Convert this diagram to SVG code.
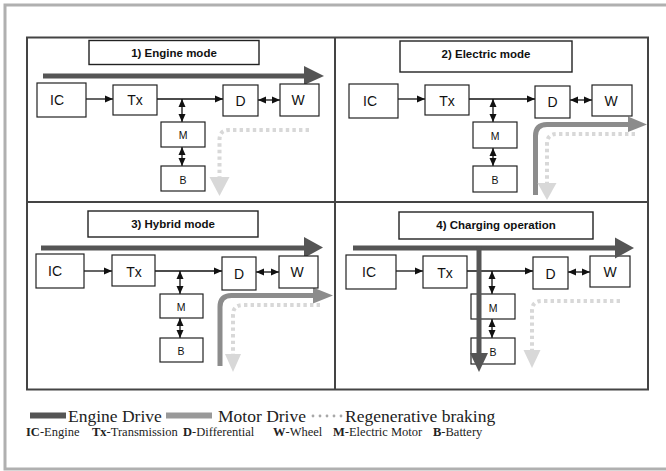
<svg xmlns="http://www.w3.org/2000/svg" width="666" height="471" viewBox="0 0 666 471">
<style>
.box{fill:#fff;stroke:#222;stroke-width:1.2}
.tbox{fill:#fff;stroke:#222;stroke-width:1.4}
.lbl{font-family:"Liberation Sans",Arial,sans-serif;font-size:14px;fill:#111;text-anchor:middle}
.sm{font-family:"Liberation Sans",Arial,sans-serif;font-size:10.5px;fill:#111;text-anchor:middle}
.ttl{font-family:"Liberation Sans",Arial,sans-serif;font-size:11.5px;font-weight:bold;fill:#111;text-anchor:middle}
.ln{stroke:#111;stroke-width:1.3;fill:none}
.one{marker-end:url(#ah)}
.two{marker-end:url(#ah);marker-start:url(#ah)}
.eng{stroke:#555;stroke-width:5;fill:none}
.engh{fill:#555}
.mot{stroke:#8c8c8c;stroke-width:5;fill:none}
.moth{fill:#8c8c8c}
.reg{stroke:#d8d8d8;stroke-width:4;fill:none;stroke-dasharray:3.4 3.2}
.regh{fill:#d8d8d8}
.leg{font-size:17.5px;fill:#222}
.key{font-size:12.5px;fill:#222}
</style>
<defs>
<marker id="ah" markerUnits="userSpaceOnUse" markerWidth="8" markerHeight="8" refX="8" refY="4" orient="auto-start-reverse">
<path d="M0,0.5 L8,4 L0,7.5 z" fill="#111"/>
</marker>
</defs>
<rect width="666" height="471" fill="#fff"/>
<path d="M666 5 H5 V469 H666" fill="none" stroke="#b0b0b0" stroke-width="3"/>
<g id="grid">
<rect x="27" y="37.5" width="621" height="352" fill="none" stroke="#444" stroke-width="2"/>
<line x1="335" y1="37.5" x2="335" y2="389.5" stroke="#444" stroke-width="2"/>
<line x1="27" y1="202" x2="648" y2="202" stroke="#444" stroke-width="2"/>
</g>

<g id="flows">
<!-- panel 1 -->
<line class="eng" x1="43" y1="76" x2="306" y2="76"/>
<polygon class="engh" points="304,66 324,76 304,85"/>
<path class="reg" d="M309 130 H229 Q219.5 130 219.5 140 V178"/>
<polygon class="regh" points="209.5,177 229.5,177 219.5,196"/>
<!-- panel 2 -->
<path class="mot" d="M535.5 195 V136 Q535.5 124.5 547 124.5 H630"/>
<polygon class="moth" points="628,116.5 647,124.5 628,132"/>
<path class="reg" d="M635 134 H557 Q547 134 547 144 V184"/>
<polygon class="regh" points="537.5,183 556.5,183 547,200"/>
<!-- panel 3 -->
<line class="eng" x1="41" y1="248" x2="306" y2="248"/>
<polygon class="engh" points="304,237 323,247.5 304,258"/>
<path class="mot" d="M220 366 V307 Q220 295.5 231.5 295.5 H315"/>
<polygon class="moth" points="313,287.5 333,295.5 313,303.5"/>
<path class="reg" d="M320 305 H243 Q233 305 233 315 V355"/>
<polygon class="regh" points="225,354 241,354 233,372"/>
<!-- panel 4 -->
<path class="reg" d="M620 301 H542 Q532 301 532 311 V351"/>
<polygon class="regh" points="523.5,350 540.5,350 532,368"/>
</g>

<g id="connectors">
<!-- panel 1 -->
<line class="ln one" x1="86" y1="99" x2="113" y2="99"/>
<line class="ln one" x1="157" y1="99" x2="223" y2="99"/>
<line class="ln two" x1="258" y1="100" x2="280" y2="100"/>
<line class="ln two" x1="182" y1="99" x2="182" y2="122"/>
<line class="ln two" x1="182" y1="147" x2="182" y2="166"/>
<!-- panel 2 -->
<line class="ln one" x1="398" y1="99" x2="425" y2="99"/>
<line class="ln one" x1="469" y1="99" x2="535" y2="99"/>
<line class="ln two" x1="570" y1="100" x2="592" y2="100"/>
<line class="ln two" x1="493" y1="99" x2="493" y2="122"/>
<line class="ln two" x1="493" y1="148" x2="493" y2="166"/>
<!-- panel 3 -->
<line class="ln one" x1="84" y1="271" x2="112" y2="271"/>
<line class="ln one" x1="155" y1="271" x2="222" y2="271"/>
<line class="ln two" x1="256" y1="272" x2="279" y2="272"/>
<line class="ln two" x1="180" y1="271" x2="180" y2="294"/>
<line class="ln two" x1="180" y1="318" x2="180" y2="338"/>
<!-- panel 4 -->
<line class="ln one" x1="396" y1="271" x2="423" y2="271"/>
<line class="ln one" x1="467" y1="271" x2="533" y2="271"/>
<line class="ln two" x1="568" y1="272" x2="590" y2="272"/>
<line class="ln two" x1="492" y1="271" x2="492" y2="294"/>
<line class="ln two" x1="492" y1="319" x2="492" y2="338"/>
</g>

<!-- Panel 1 nodes -->
<g id="title1"><rect class="tbox" x="89" y="40.5" width="170" height="24"/><text class="ttl" x="174" y="57">1) Engine mode</text></g>
<g id="ic1"><rect class="box" x="37" y="83" width="49" height="34"/><text class="lbl" x="57" y="105">IC</text></g>
<g id="tx1"><rect class="box" x="113" y="85" width="44" height="30"/><text class="lbl" x="135" y="105">Tx</text></g>
<g id="d1"><rect class="box" x="223" y="85" width="35" height="31"/><text class="lbl" x="240.5" y="106">D</text></g>
<g id="w1"><rect class="box" x="280" y="84" width="39" height="32"/><text class="lbl" x="298" y="105">W</text></g>
<g id="m1"><rect class="box" x="161" y="122" width="44" height="25"/><text class="sm" x="183" y="139">M</text></g>
<g id="b1"><rect class="box" x="161" y="166" width="44" height="25"/><text class="sm" x="183" y="184">B</text></g>

<!-- Panel 2 nodes -->
<g id="title2"><rect class="tbox" x="400" y="41" width="172" height="31"/><text class="ttl" x="486" y="58">2) Electric mode</text></g>
<g id="ic2"><rect class="box" x="349" y="84" width="49" height="34"/><text class="lbl" x="370" y="106">IC</text></g>
<g id="tx2"><rect class="box" x="425" y="85" width="44" height="30"/><text class="lbl" x="447" y="106">Tx</text></g>
<g id="d2"><rect class="box" x="535" y="86" width="35" height="32"/><text class="lbl" x="552.5" y="107">D</text></g>
<g id="w2"><rect class="box" x="592" y="85" width="40" height="31"/><text class="lbl" x="611" y="106">W</text></g>
<g id="m2"><rect class="box" x="473" y="122" width="44" height="26"/><text class="sm" x="495" y="140">M</text></g>
<g id="b2"><rect class="box" x="473" y="166" width="44" height="26"/><text class="sm" x="495" y="184">B</text></g>

<!-- Panel 3 nodes -->
<g id="title3"><rect class="tbox" x="88" y="211" width="170" height="26"/><text class="ttl" x="173" y="228">3) Hybrid mode</text></g>
<g id="ic3"><rect class="box" x="36" y="254" width="48" height="34"/><text class="lbl" x="55" y="276">IC</text></g>
<g id="tx3"><rect class="box" x="112" y="255" width="43" height="31"/><text class="lbl" x="134" y="277">Tx</text></g>
<g id="d3"><rect class="box" x="222" y="257" width="34" height="33"/><text class="lbl" x="239" y="279">D</text></g>
<g id="w3"><rect class="box" x="279" y="256" width="39" height="32"/><text class="lbl" x="297" y="277">W</text></g>
<g id="m3"><rect class="box" x="160" y="294" width="43" height="24"/><text class="sm" x="181" y="311">M</text></g>
<g id="b3"><rect class="box" x="160" y="338" width="43" height="24"/><text class="sm" x="181" y="355">B</text></g>

<!-- Panel 4 nodes -->
<g id="title4"><rect class="tbox" x="399" y="212" width="194" height="27"/><text class="ttl" x="496" y="229">4) Charging operation</text></g>
<g id="ic4"><rect class="box" x="346" y="255" width="50" height="34"/><text class="lbl" x="369" y="277">IC</text></g>
<g id="tx4"><rect class="box" x="423" y="256" width="44" height="32"/><text class="lbl" x="445" y="278">Tx</text></g>
<g id="d4"><rect class="box" x="533" y="257" width="35" height="32"/><text class="lbl" x="550.5" y="279">D</text></g>
<g id="w4"><rect class="box" x="590" y="256" width="40" height="31"/><text class="lbl" x="610" y="277">W</text></g>
<g id="m4"><rect class="box" x="471" y="294" width="44" height="25"/><text class="sm" x="493" y="312">M</text></g>
<g id="b4"><rect class="box" x="471" y="338" width="44" height="26"/><text class="sm" x="493" y="356">B</text></g>

<g id="flows-top">
<line class="eng" x1="353" y1="248" x2="617" y2="248"/>
<polygon class="engh" points="615,237.5 634,248 615,258.5"/>
<line class="eng" x1="479" y1="246" x2="479" y2="356"/>
<polygon class="engh" points="470,353 488,353 479,372"/>
</g>

<g id="legend" font-family="'Liberation Serif', 'DejaVu Serif', serif">
<rect x="30" y="412.5" width="36" height="6" fill="#555"/>
<text class="leg" x="68" y="422">Engine Drive</text>
<rect x="166" y="412.5" width="46" height="6" fill="#999"/>
<text class="leg" x="218" y="422">Motor Drive</text>
<g fill="#a8a8a8"><circle cx="313" cy="416" r="1.4"/><circle cx="320" cy="416" r="1.4"/><circle cx="327" cy="416" r="1.4"/><circle cx="334" cy="416" r="1.4"/><circle cx="341" cy="416" r="1.4"/></g>
<text class="leg" x="345" y="422">Regenerative braking</text>
<text class="key" y="436"><tspan x="26" font-weight="bold">IC</tspan><tspan>-Engine</tspan><tspan x="92" font-weight="bold">Tx</tspan><tspan>-Transmission</tspan><tspan x="183" font-weight="bold">D</tspan><tspan>-Differential</tspan><tspan x="273" font-weight="bold">W</tspan><tspan>-Wheel</tspan><tspan x="333" font-weight="bold">M</tspan><tspan>-Electric Motor</tspan><tspan x="433" font-weight="bold">B</tspan><tspan>-Battery</tspan></text>
</g>
</svg>
